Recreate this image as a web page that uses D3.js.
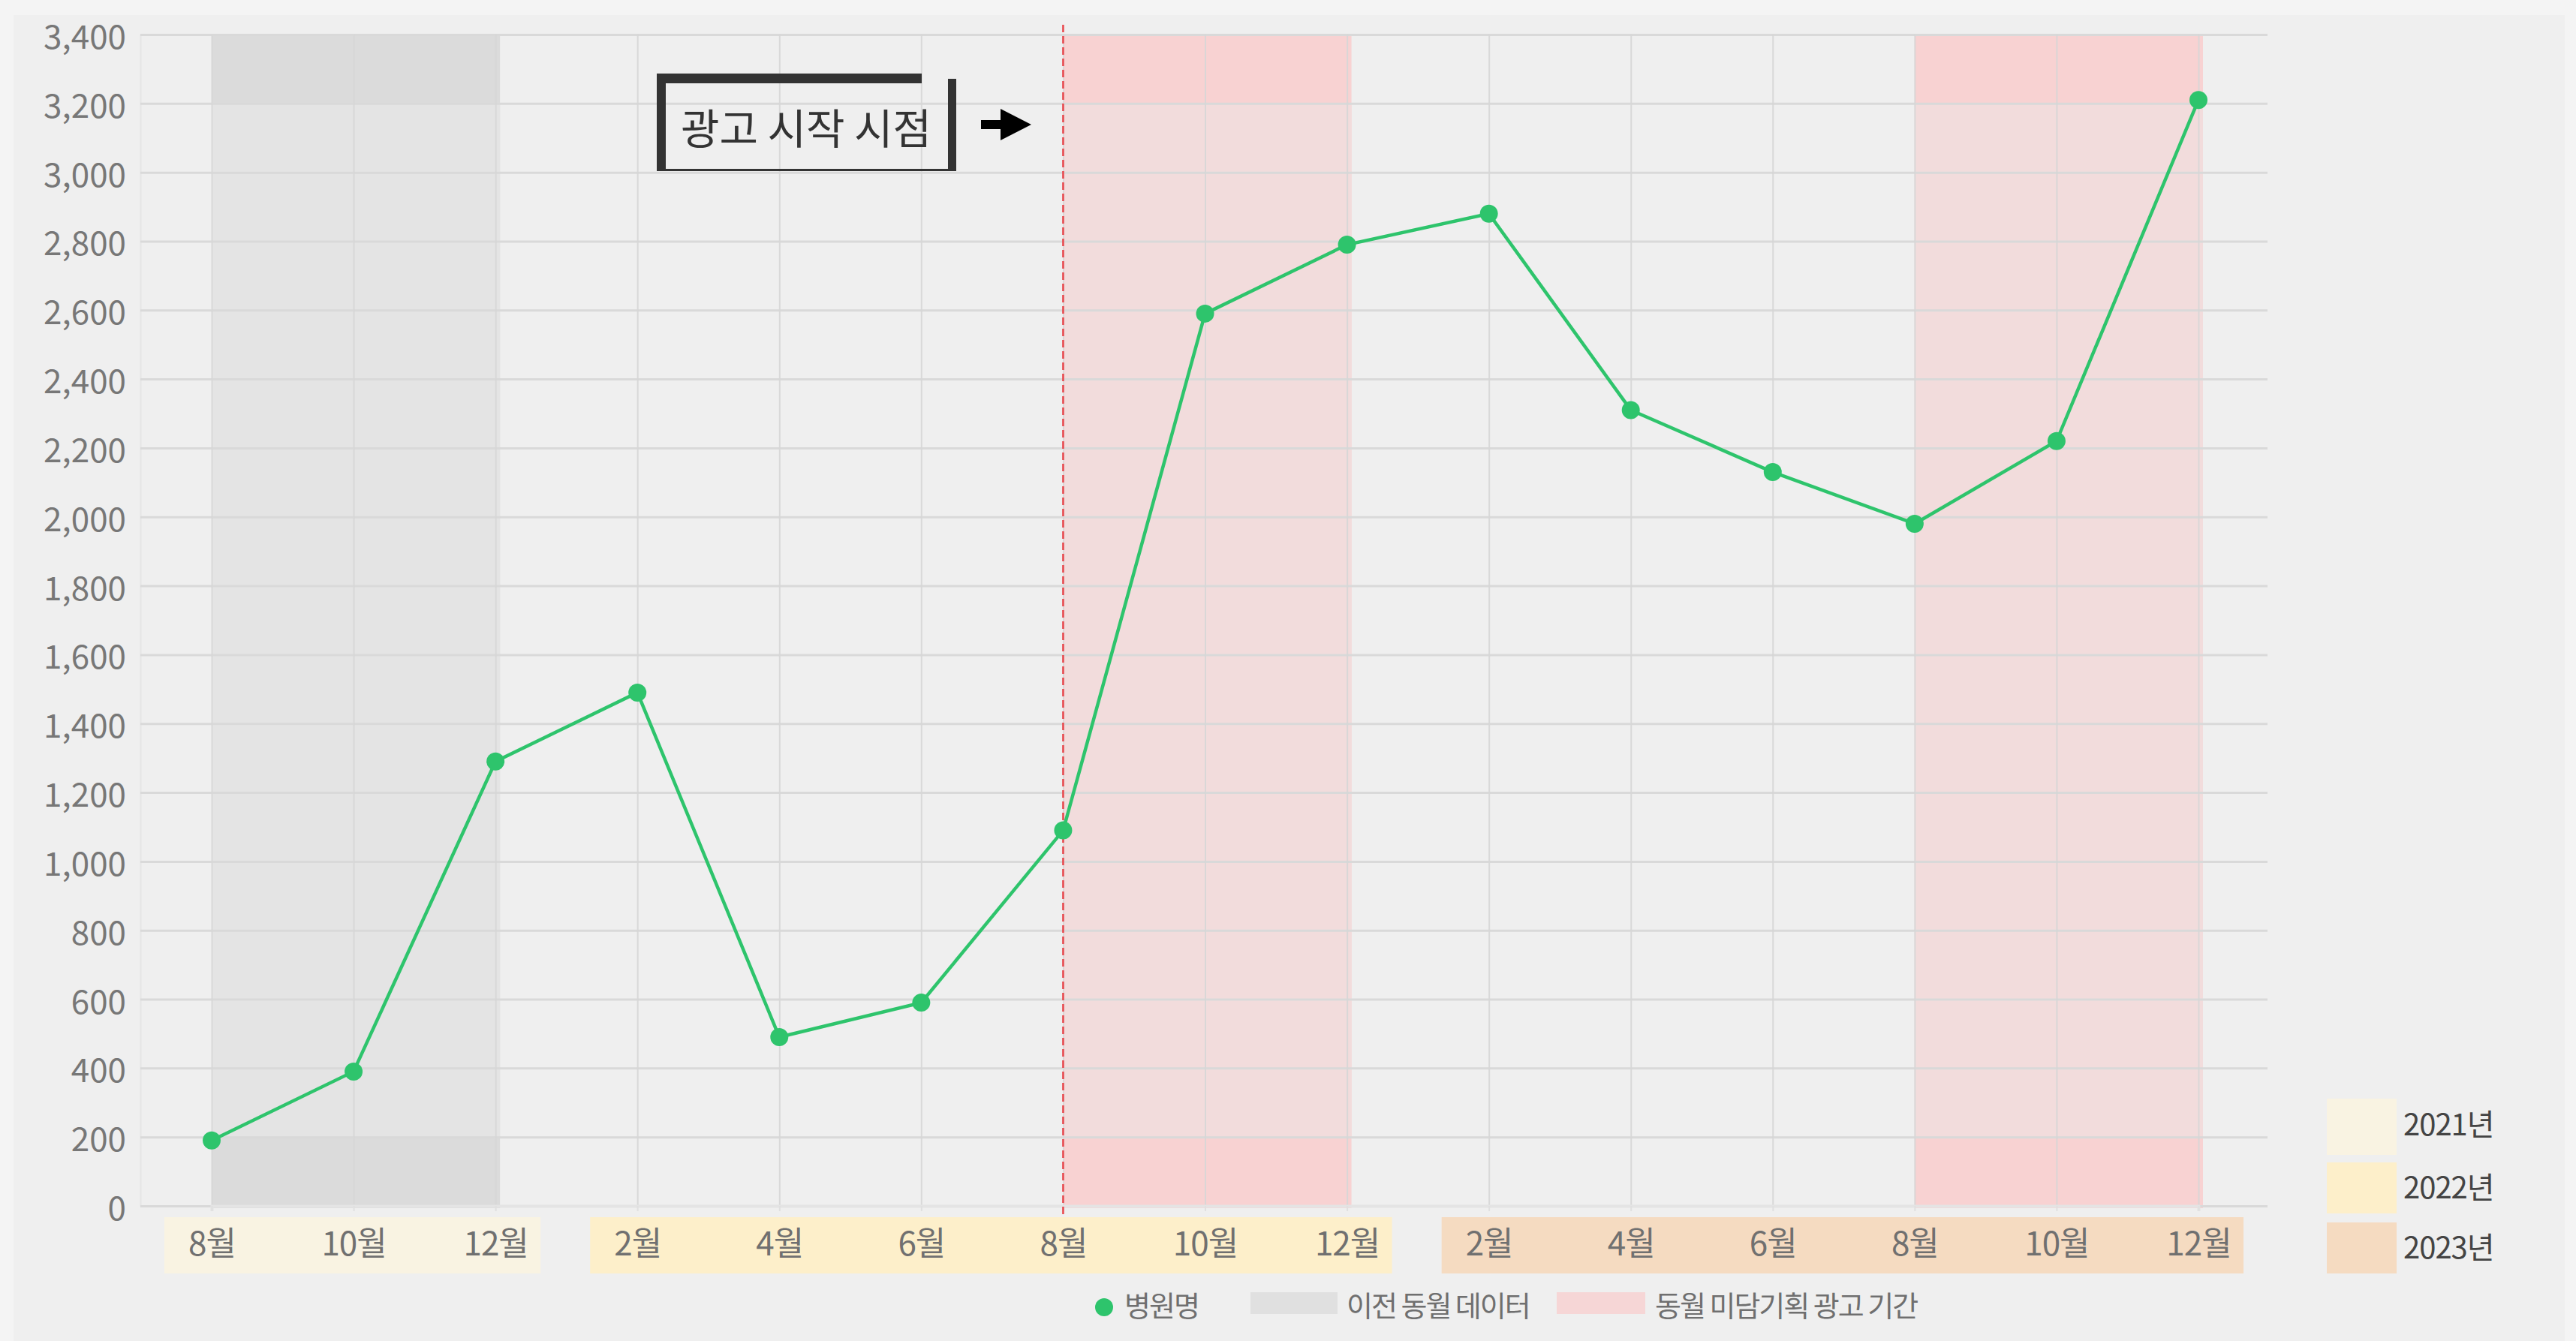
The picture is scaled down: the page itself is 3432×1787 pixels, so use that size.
<!DOCTYPE html>
<html>
<head>
<meta charset="utf-8">
<script src="https://cdn.jsdelivr.net/npm/d3@7"></script>
<style>
  body { margin: 0; background: #f4f4f4; }
  svg, svg text { display: block; font-family: "Noto Sans CJK KR", "Noto Sans", sans-serif; }
</style>
</head>
<body>
<script>
// data
var months = ["8월","10월","12월","2월","4월","6월","8월","10월","12월","2월","4월","6월","8월","10월","12월"];
var values = [190,390,1290,1490,490,590,1090,2590,2790,2880,2310,2130,1980,2220,3210];
var yearLabels = ["2021년","2022년","2023년"];
var yearStart = [0,3,9];
var yearEnd = [2,8,14];
var yearColors = ["#f9f3e2","#fdefca","#f5dbc1"];
var prevBands = [[0,2]];          // 이전 동월 데이터
var adBands = [[6,8],[12,14]];    // 동월 미담기획 광고 기간
var adStart = 6;                  // 광고 시작 시점
var yTicks = d3.range(0,3401,200);
var legendLabels = ["병원명","이전 동월 데이터","동월 미담기획 광고 기간"];

var W = 3432, H = 1787;
var plotL = 187, plotR = 3021, plotT = 46, plotB = 1607;
var FONT = '"Noto Sans CJK KR", "Noto Sans", sans-serif';

var svg = d3.select("body").append("svg")
    .attr("width", W).attr("height", H)
    .attr("font-family", FONT);

svg.append("rect").attr("width", W).attr("height", H).attr("fill", "#f4f4f4");
svg.append("rect").attr("x", 18).attr("y", 20).attr("width", 3399).attr("height", H - 20)
    .attr("fill", "#efefef");

var x = d3.scaleLinear().domain([0, months.length - 1]).range([282, 2929]);
var y = d3.scaleLinear().domain([0, 3400]).range([plotB, plotT]);

// bands
function drawBands(bands, dark, light){
    var g = svg.append("g");
    bands.forEach(function(b){
        g.append("rect")
            .attr("x", x(b[0])).attr("width", x(b[1]) - x(b[0]) + 6)
            .attr("y", y(3400)).attr("height", y(0) - y(3400) + 3)
            .attr("fill", dark);
        g.append("rect")
            .attr("x", x(b[0])).attr("width", x(b[1]) - x(b[0]) + 6)
            .attr("y", y(3200)).attr("height", y(200) - y(3200))
            .attr("fill", light);
    });
}
drawBands(prevBands, "#dbdbdb", "#e4e4e4");
drawBands(adBands, "#f8d2d2", "#f2dcdc");

// y axis + horizontal grid
var yAxis = svg.append("g")
    .attr("transform", "translate(" + plotL + ",0)")
    .call(d3.axisLeft(y).tickValues(yTicks).tickFormat(d3.format(","))
        .tickSize(-(plotR - plotL)).tickPadding(19))
    .attr("font-family", FONT);
yAxis.select(".domain").attr("stroke", "#e6e6e6").attr("stroke-width", 2);
yAxis.selectAll("line").attr("stroke", "#d9d9d9").attr("stroke-width", 3);
yAxis.selectAll("text").attr("fill", "#777").attr("font-size", 44).attr("dy", "0.42em");

// vertical grid
var xGrid = svg.append("g")
    .attr("transform", "translate(0," + plotB + ")")
    .call(d3.axisBottom(x).tickValues(d3.range(months.length)).tickSize(-(plotB - plotT)).tickFormat(""));
xGrid.select(".domain").remove();
xGrid.selectAll("line").attr("stroke", "#d6d6d6").attr("stroke-width", 2).attr("opacity", 0.9);

// year blocks behind month labels
svg.append("g").selectAll("rect").data(yearLabels).enter().append("rect")
    .attr("x", function(d,i){ return x(yearStart[i]) - 63; })
    .attr("width", function(d,i){ return x(yearEnd[i]) - x(yearStart[i]) + 123; })
    .attr("y", 1622).attr("height", 75)
    .attr("fill", function(d,i){ return yearColors[i]; });

// x axis labels
var xAxis = svg.append("g")
    .attr("transform", "translate(0," + plotB + ")")
    .call(d3.axisBottom(x).tickValues(d3.range(months.length))
        .tickFormat(function(i){ return months[i]; }).tickSize(7))
    .attr("font-family", FONT);
xAxis.select(".domain").attr("stroke", "#e4e4e4").attr("stroke-width", 4);
xAxis.selectAll("line").attr("stroke", "#e0e0e0").attr("stroke-width", 2);
xAxis.selectAll("text").attr("fill", "#707070").attr("font-size", 44)
    .attr("y", 66).attr("dy", 0).attr("letter-spacing", -1);

// ad start dashed line
svg.append("line")
    .attr("x1", x(adStart)).attr("x2", x(adStart))
    .attr("y1", 33).attr("y2", 1618)
    .attr("stroke", "#e8474c").attr("stroke-width", 2.5)
    .attr("stroke-dasharray", "10,5");

// line + dots
var line = d3.line().x(function(d,i){ return x(i); }).y(function(d){ return y(d); });
svg.append("path").datum(values)
    .attr("d", line).attr("fill", "none")
    .attr("stroke", "#2ec46c").attr("stroke-width", 4.5);
svg.append("g").selectAll("circle").data(values).enter().append("circle")
    .attr("cx", function(d,i){ return x(i); })
    .attr("cy", function(d){ return y(d); })
    .attr("r", 12).attr("fill", "#2ec46c");

// annotation box
var ann = svg.append("g");
ann.append("rect").attr("x", 875).attr("y", 98).attr("width", 353).attr("height", 13).attr("fill", "#333");
ann.append("rect").attr("x", 875).attr("y", 98).attr("width", 12).attr("height", 130).attr("fill", "#333");
ann.append("rect").attr("x", 1263).attr("y", 105).attr("width", 11).attr("height", 123).attr("fill", "#333");
ann.append("rect").attr("x", 875).attr("y", 225).attr("width", 399).attr("height", 3).attr("fill", "#333");
ann.append("text").attr("x", 1074).attr("y", 192)
    .attr("text-anchor", "middle").attr("font-size", 56).attr("fill", "#333")
    .text("광고 시작 시점");
ann.append("rect").attr("x", 1307).attr("y", 160).attr("width", 30).attr("height", 12).attr("fill", "#000");
ann.append("path").attr("d", "M1333,145 L1374,166 L1333,187 Z").attr("fill", "#000");

// bottom legend
var lg = svg.append("g").attr("font-size", 38).attr("fill", "#6f6f6f").attr("letter-spacing", -2);
lg.append("circle").attr("cx", 1471).attr("cy", 1742).attr("r", 12).attr("fill", "#2ec46c");
lg.append("text").attr("x", 1498).attr("y", 1754).text(legendLabels[0]);
lg.append("rect").attr("x", 1666).attr("y", 1722).attr("width", 116).attr("height", 29).attr("fill", "#e0e0e0");
lg.append("text").attr("x", 1794).attr("y", 1754).text(legendLabels[1]);
lg.append("rect").attr("x", 2074).attr("y", 1722).attr("width", 118).attr("height", 29).attr("fill", "#f6d6d6");
lg.append("text").attr("x", 2205).attr("y", 1754).text(legendLabels[2]);

// year legend
var yl = svg.append("g").selectAll("g").data(yearLabels).enter().append("g")
    .attr("transform", function(d,i){ return "translate(3100," + [1464,1549,1629][i] + ")"; });
yl.append("rect").attr("width", 93).attr("height", function(d,i){ return i == 0 ? 75 : 68; })
    .attr("fill", function(d,i){ return yearColors[i]; });
yl.append("text").attr("x", 102).attr("y", function(d,i){ return i == 0 ? 49 : 48; })
    .attr("font-size", 40).attr("fill", "#444").attr("letter-spacing", -1)
    .text(function(d){ return d; });
</script>
</body>
</html>
